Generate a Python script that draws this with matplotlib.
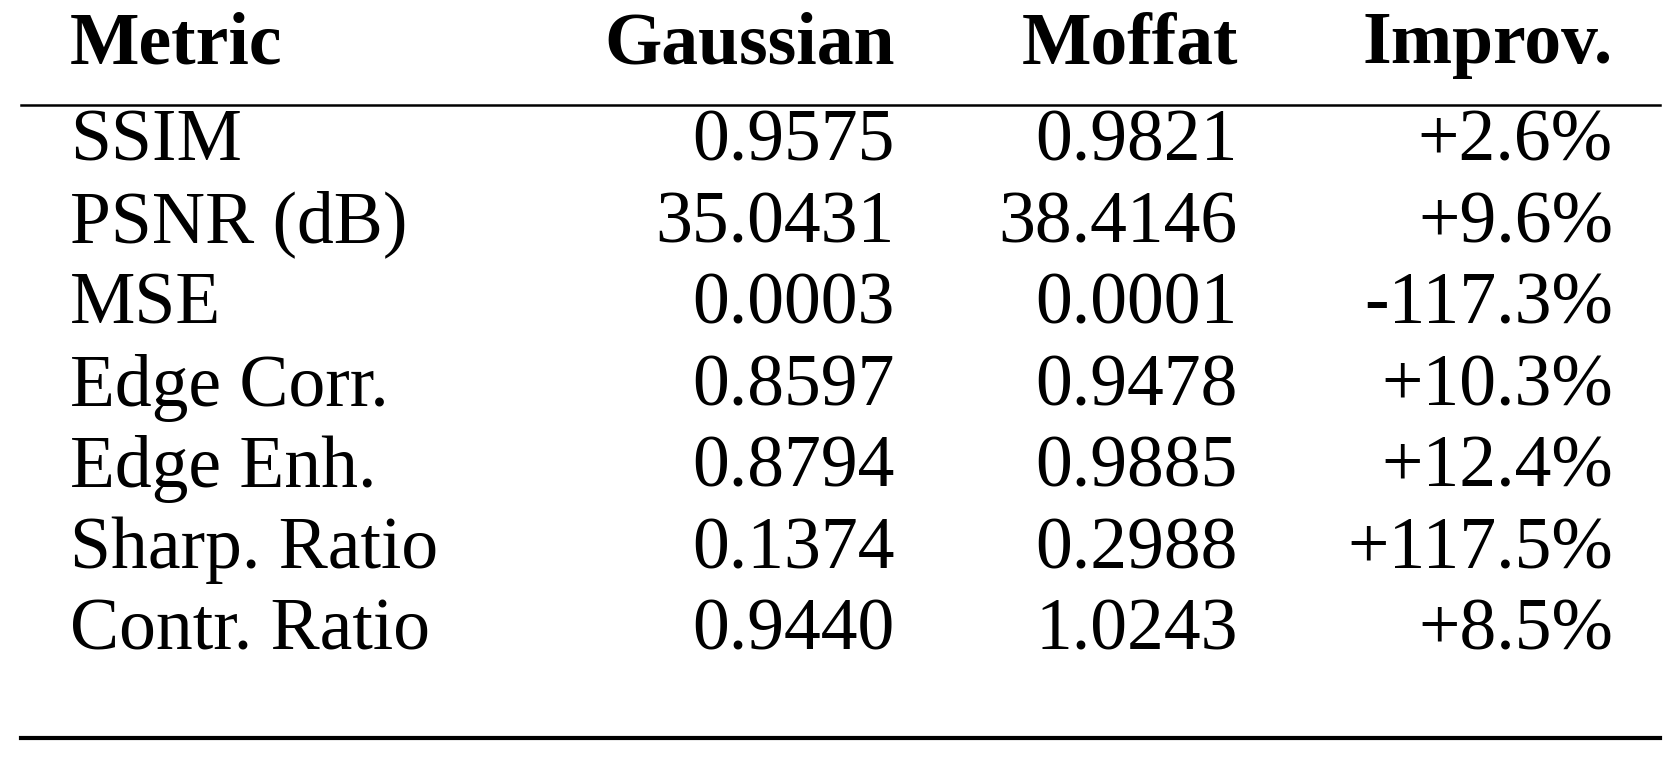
import matplotlib.pyplot as plt

# --- Данни ---
headers = ["Metric", "Gaussian", "Moffat", "Improv."]
metrics = ["SSIM", "PSNR (dB)", "MSE", "Edge Corr.", "Edge Enh.", "Sharp. Ratio", "Contr. Ratio"]
gaussian = ["0.9575", "35.0431", "0.0003", "0.8597", "0.8794", "0.1374", "0.9440"]
moffat = ["0.9821", "38.4146", "0.0001", "0.9478", "0.9885", "0.2988", "1.0243"]
improv = ["+2.6%", "+9.6%", "-117.3%", "+10.3%", "+12.4%", "+117.5%", "+8.5%"]

plt.rcParams['font.family'] = ['Liberation Serif', 'DejaVu Serif']

fig = plt.figure(figsize=(16.81, 7.59), dpi=100)
ax = fig.add_axes([0, 0, 1, 1])
ax.set_xlim(0, 1681)
ax.set_ylim(759, 0)
ax.axis('off')

fs = 53
col_x = [70, 895, 1238, 1613]
col_ha = ['left', 'right', 'right', 'right']

# --- Заглавен ред ---
for x, ha, h in zip(col_x, col_ha, headers):
    ax.text(x, 45, h, ha=ha, va='center', fontsize=fs, fontweight='bold')

# --- Линии ---
ax.plot([21, 1660], [105, 105], color='black', lw=1.8)
ax.plot([21, 1660], [738, 738], color='black', lw=3)

# --- Редове ---
y0, dy = 143, 81.5
for i, row in enumerate(zip(metrics, gaussian, moffat, improv)):
    y = y0 + i * dy
    for x, ha, val in zip(col_x, col_ha, row):
        ax.text(x, y, val, ha=ha, va='center', fontsize=fs)

fig.savefig("out.png", dpi=100)
